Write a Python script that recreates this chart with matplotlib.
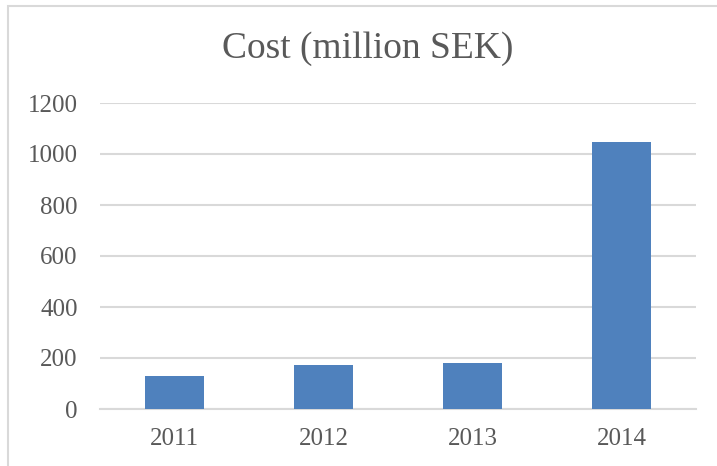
import matplotlib
matplotlib.use('Agg')
from matplotlib import pyplot as plt
from matplotlib.patches import Rectangle

years = ['2011', '2012', '2013', '2014']
cost = [130, 174, 179, 1046]
y_ticks = [0, 200, 400, 600, 800, 1000, 1200]

text_grey = '#595959'
plt.rcParams['font.family'] = ['Liberation Serif', 'DejaVu Serif']

fig = plt.figure(figsize=(7.17, 4.66), dpi=100)
ax = fig.add_axes([100/717, 57/466, 596/717, 306/466])

ax.bar(range(len(years)), cost, width=0.4, color='#4F81BD', zorder=3)
ax.set_xlim(-0.5, len(years) - 0.5)
ax.set_ylim(0, 1200)
ax.set_yticks(y_ticks)
ax.set_xticks(range(len(years)))
ax.set_xticklabels(years)

ax.grid(axis='y', color='#D9D9D9', linewidth=1.5, zorder=0)
for side in ['left', 'right', 'top']:
	ax.spines[side].set_visible(False)
ax.spines['bottom'].set_color('#D9D9D9')
ax.spines['bottom'].set_linewidth(1.5)
ax.tick_params(axis='both', length=0, labelsize=18, labelcolor=text_grey)
ax.tick_params(axis='y', pad=16)
ax.tick_params(axis='x', pad=14)

fig.text(0.5126, 417/466, 'Cost (million SEK)', ha='center', va='center',
	fontsize=27, color=text_grey)

# chart border, only left and top edges fall inside the image
fig.patches.append(Rectangle((7.5/717, -0.1), 1.2, (460/466) + 0.1,
	transform=fig.transFigure, fill=False, edgecolor='#D9D9D9', linewidth=1.5))

fig.savefig('out.png', dpi=100)
